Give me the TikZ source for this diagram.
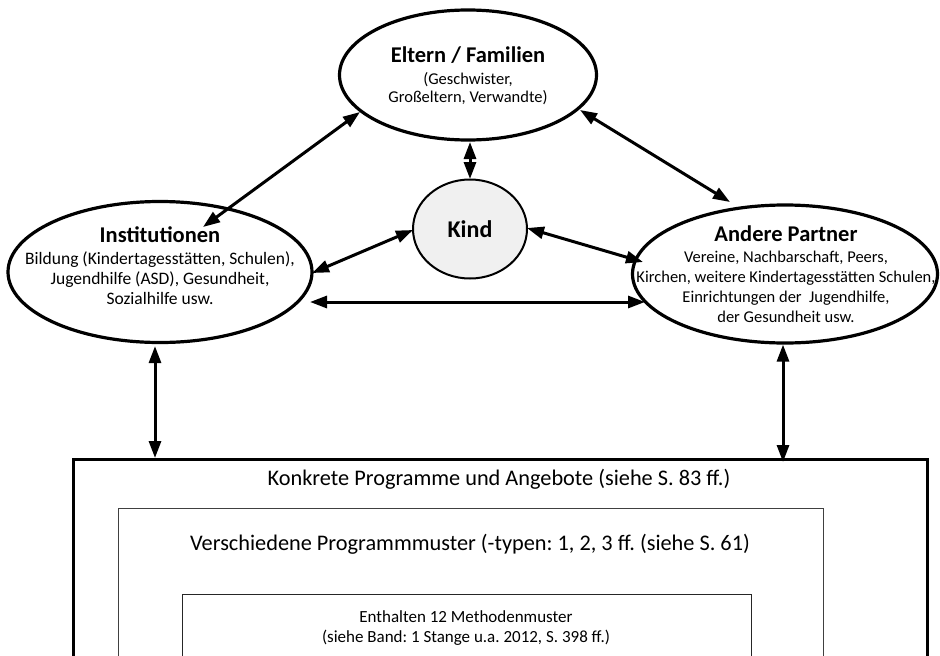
\documentclass[tikz,border=0pt]{standalone}
\usepackage{fontspec}
\setmainfont{Carlito}
\usetikzlibrary{shapes.geometric,arrows.meta,calc}

\begin{document}
\frenchspacing
\begin{tikzpicture}[x=1pt,y=-1pt,
  ell/.style={draw, ellipse, line width=3.2pt, inner sep=0pt},
  biarrow/.style={line width=3pt, {Triangle[length=17pt,width=12pt]}-{Triangle[length=17pt,width=12pt]}},
  ttl/.style={font=\bfseries\fontsize{22.5}{26}\selectfont, inner sep=0pt},
  bodytxt/.style={font=\fontsize{16.5}{20}\selectfont, align=center, inner sep=0pt},
  boxtxt/.style={font=\fontsize{22.3}{26}\selectfont, inner sep=0pt},
  frame/.style={draw, rectangle, anchor=north west, inner sep=0pt}
]
\useasboundingbox (0,0) rectangle (940,656);
\clip (0,0) rectangle (940,656);

% ellipses
\node[ell, minimum width=257pt, minimum height=130pt] (elt) at (468,75) {};
\node[ell, minimum width=304pt, minimum height=141pt] (inst) at (160,272) {};
\node[ell, minimum width=305pt, minimum height=138pt] (and) at (785,274) {};
\node[draw, ellipse, line width=2pt, fill=gray!12, inner sep=0pt,
      minimum width=114pt, minimum height=99pt,
      font=\bfseries\fontsize{24}{28}\selectfont] (kind) at (470,229) {Kind};

% texts in ellipses
\node[ttl] (eltt) at (468,55) {Eltern / Familien};
\node[bodytxt, font=\fontsize{16.5}{18}\selectfont] (eltb) at (468,89) {(Geschwister,\\Großeltern, Verwandte)};
\node[ttl] (instt) at (160,235) {Institutionen};
\node[bodytxt, font=\fontsize{17.5}{20}\selectfont] (instb) at (160,278) {Bildung (Kindertagesstätten, Schulen),\\Jugendhilfe (ASD), Gesundheit,\\Sozialhilfe usw.};
\node[ttl] (andt) at (786,234) {Andere Partner};
\node[bodytxt] (andb) at (786,287) {Vereine, Nachbarschaft, Peers,\\Kirchen, weitere Kindertagesstätten Schulen,\\Einrichtungen der \ Jugendhilfe,\\der Gesundheit usw.};

% boxes
\node[frame, line width=2.5pt, minimum width=854pt, minimum height=260pt] (outer) at (72,458) {};
\node[frame, line width=1.3pt, draw=black!75, minimum width=705pt, minimum height=200pt] (mid) at (118,508) {};
\node[frame, line width=1.3pt, draw=black!85, minimum width=569pt, minimum height=120pt] (inner) at (182,594) {};

\node[boxtxt] (outert) at (499,479) {Konkrete Programme und Angebote (siehe S. 83 ff.)};
\node[boxtxt] (midt) at (470,544) {Verschiedene Programmmuster (-typen: 1, 2, 3 ff. (siehe S. 61)};
\node[font=\fontsize{17}{20}\selectfont, align=center, inner sep=0pt] (innert) at (466,628) {Enthalten 12 Methodenmuster\\(siehe Band: 1 Stange u.a. 2012, S. 398 ff.)};

% connectors
\draw[biarrow] ($(inst.center)+(43,-45)$) -- ($(elt.center)+(-108,37)$);
\draw[biarrow] ($(elt.center)+(2,67)$) -- ($(kind.center)+(0,-50)$);
\draw[biarrow] ($(elt.center)+(112,35)$) -- ($(and.center)+(-55,-72)$);
\draw[biarrow] ($(kind.center)+(-57,1)$) -- ($(inst.center)+(152,1)$);
\draw[biarrow] ($(kind.center)+(57,-1)$) -- ($(and.center)+(-142,-12)$);
\draw[biarrow] ($(inst.center)+(150,30)$) -- ($(and.center)+(-140,28)$);
\draw[biarrow] ($(inst.south)+(-5,2)$) -- ($(outer.north west)+(83,0)$);
\draw[biarrow] ($(and.south)+(-2,0)$) -- ($(outer.north west)+(711,4)$);
\end{tikzpicture}
\end{document}
